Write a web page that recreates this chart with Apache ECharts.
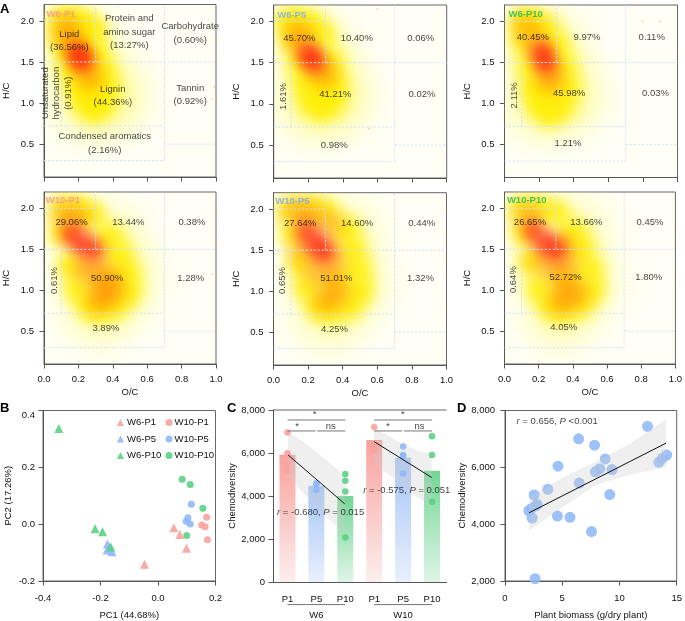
<!DOCTYPE html>
<html><head><meta charset="utf-8">
<style>html,body{margin:0;padding:0;background:#fff}#c{width:685px;height:621px}</style>
<script src="https://cdn.jsdelivr.net/npm/echarts@6/dist/echarts.min.js"></script>
</head><body><div id="c"></div>
<script>
const FONT = '"Liberation Sans", Arial, sans-serif';
// ---------- Panel A: density ridges: [O/C, H/C, level]
const panelTitles = ['W6-P1','W6-P5','W6-P10','W10-P1','W10-P5','W10-P10'];
const densityW6P1 = [[.3,1.35,0],[.4,1.05,0],[.2,1.75,0],[.25,1.0,0],[.1,2,1],[.16,2,1],[.23,1.97,1],[.29,1.88,1],[.11,1.8,1],[.14,1.6,1],[.16,1.4,1],[.2,1.2,1],[.24,1.03,1],[.29,.92,1],[.34,1.02,1],[.36,1.2,1],[.34,1.4,1],[.3,1.6,1],[.22,1.75,1],[.26,1.2,1],[.13,1.92,2],[.15,1.78,2],[.18,1.66,2],[.24,1.45,2],[.27,1.3,2],[.2,1.6,3],[.22,1.52,3]];
const densityW6P5 = [[.3,1.35,0],[.36,1.05,0],[.22,1.75,0],[.22,1.0,0],[.08,2,1],[.14,2,1],[.22,1.96,1],[.28,1.82,1],[.11,1.78,1],[.15,1.5,1],[.18,1.25,1],[.22,1.03,1],[.28,.95,1],[.34,1.05,1],[.35,1.25,1],[.33,1.5,1],[.26,1.2,1],[.14,1.85,2],[.16,1.75,2],[.26,1.45,2],[.29,1.35,2],[.2,1.6,3],[.23,1.52,3]];
const densityW6P10 = [[.3,1.35,0],[.36,1.05,0],[.24,1.75,0],[.2,1.0,0],[.1,2,1],[.16,1.98,1],[.24,1.92,1],[.11,1.75,1],[.14,1.45,1],[.17,1.2,1],[.2,1.0,1],[.26,.88,1],[.33,.98,1],[.36,1.2,1],[.34,1.45,1],[.3,1.7,1],[.24,1.15,1],[.13,1.92,2],[.19,1.72,2],[.25,1.38,2],[.27,1.28,2],[.215,1.62,3],[.24,1.5,3]];
const densityW10P1 = [[.3,1.3,0],[.46,1.1,0],[.38,1.6,0],[.32,.75,0],[.1,2,1],[.2,2,1],[.28,1.92,1],[.1,1.7,1],[.15,1.3,1],[.19,1.02,1],[.26,.82,1],[.33,.78,1],[.42,.82,1],[.49,.98,1],[.48,1.2,1],[.44,1.42,1],[.38,1.65,1],[.36,1.1,1],[.13,1.92,2],[.2,1.85,2],[.3,1.25,2],[.34,1.0,2],[.32,.87,2],[.4,.98,2],[.38,1.15,2],[.24,1.28,2],[.16,1.68,3],[.22,1.56,3],[.29,1.5,3]];
const densityW10P5 = [[.3,1.3,0],[.46,1.1,0],[.4,1.7,0],[.32,.72,0],[.09,2,1],[.2,2.02,1],[.3,1.98,1],[.11,1.7,1],[.15,1.35,1],[.19,1.05,1],[.26,.82,1],[.34,.78,1],[.44,.82,1],[.5,1,1],[.49,1.25,1],[.46,1.5,1],[.42,1.75,1],[.36,1.1,1],[.13,1.96,2],[.22,1.92,2],[.33,1.8,2],[.17,1.5,2],[.34,1.2,2],[.37,.98,2],[.3,.88,2],[.24,1.25,2],[.34,1.42,2],[.19,1.72,3],[.25,1.58,3],[.29,1.48,3]];
const densityW10P10 = [[.3,1.3,0],[.46,1.1,0],[.4,1.7,0],[.32,.72,0],[.09,2,1],[.2,2,1],[.3,1.95,1],[.11,1.7,1],[.15,1.35,1],[.2,1.02,1],[.27,.82,1],[.34,.77,1],[.44,.82,1],[.51,1,1],[.5,1.25,1],[.45,1.5,1],[.4,1.7,1],[.36,1.1,1],[.14,1.92,2],[.22,1.38,2],[.3,1.25,2],[.36,1.02,2],[.33,.85,2],[.42,.95,2],[.36,1.3,2],[.34,1.55,2],[.17,1.72,3],[.24,1.58,3],[.3,1.5,3]];
const strayW6P1 = [[1,1.75],[1,1.65],[.99,1.2],[1,1],[.98,1.05],[.2,2.2],[.4,2.2]];
const strayW6P5 = [[.6,2.15],[.25,2.2],[.55,.7]];
const strayW6P10 = [[1,1.6],[.8,2],[.9,2]];
const strayW10P1 = [[1,2],[1,1.72],[1,1.6],[1,.57],[.4,2.2],[.98,1.2]];
const strayW10P5 = [[1,2],[1,1.7],[1,1.6],[1,1.4],[1,1.2],[1,.75]];
const strayW10P10 = [[1,1.75],[1,1.55],[1,1.2]];
const regionSegments = [[.3,1.5,.3,2.2],[0,2,.3,2],[0,1.5,1,1.5],[.1,.72,.1,1.5],[0,.72,.7,.72],[.7,.3,.7,2.2],[0,.3,.7,.3],[.7,.5,1,.5]];
const hcTicks = [.5,1,1.5,2];
// Region annotations: [text, O/C, H/C]
const notesW6P1 = [['Lipid\n(36.56%)',.147,1.757],['Protein and\namino sugar\n(13.27%)',.496,1.862],['Carbohydrate\n(0.60%)',.85,1.85],['Lignin\n(44.36%)',.40,1.09],['Tannin\n(0.92%)',.85,1.1],['Condensed aromatics\n(2.16%)',.353,.51]];
const notesW6P5 = [['45.70%',.148,1.79],['10.40%',.48,1.79],['0.06%',.85,1.79],['41.21%',.356,1.115],['0.02%',.857,1.115],['0.98%',.35,.5]];
const notesW6P10 = [['40.45%',.164,1.8],['9.97%',.477,1.8],['0.11%',.851,1.8],['45.98%',.373,1.12],['0.03%',.873,1.12],['1.21%',.367,.51]];
const notesW10P1 = [['29.06%',.16,1.83],['13.44%',.49,1.83],['0.38%',.86,1.83],['50.90%',.367,1.15],['1.28%',.853,1.15],['3.89%',.36,.54]];
const notesW10P5 = [['27.64%',.154,1.83],['14.60%',.483,1.83],['0.44%',.857,1.83],['51.01%',.363,1.157],['1.32%',.85,1.157],['4.25%',.353,.54]];
const notesW10P10 = [['26.65%',.149,1.834],['13.66%',.479,1.834],['0.45%',.851,1.834],['52.72%',.357,1.157],['1.80%',.844,1.157],['4.05%',.347,.544]];
const verticalNotes = [['Unsaturated\nhydrocarbon\n(0.91%)',.073,1.12],['1.61%',.056,1.09],['2.11%',.058,1.1],['0.61%',.058,1.12],['0.65%',.052,1.13],['0.64%',.052,1.13]];
const titleAnchors = [[.015,2.085],[.02,2.07],[.023,2.08],[.01,2.1],[.01,2.09],[.014,2.1]];
// ---------- Panel B: PCA
const w6p1PCA = [[.055,-.013],[.076,-.036],[.099,-.085],[-.047,-.141]];
const w6p5PCA = [[-.176,-.07],[-.177,-.091],[-.16,-.097],[-.168,-.081]];
const w6p10PCA = [[-.345,.337],[-.219,-.016],[-.193,-.027],[-.164,-.08]];
const w10p1PCA = [[.169,.024],[.152,-.003],[.164,-.009],[.172,-.055]];
const w10p5PCA = [[.116,.07],[.104,.023],[.098,.01],[.112,.001]];
const w10p10PCA = [[.084,.158],[.112,.14],[.156,.056],[.1,-.04]];
// ---------- Panel C
const treatments = ['P1','P5','P10','P1','P5','P10'];
const weeks = ['W6','W10'];
const meanChemo = [5920,4480,4000,6600,5780,5180];
const repsW6P1 = [6948,5988,5478,5215];
const repsW6P5 = [4596,4520,4286];
const repsW6P10 = [5029,4704,4209,2073];
const repsW10P1 = [7210,6421,6298,6143];
const repsW10P5 = [6298,5911,5865,5044];
const repsW10P10 = [6778,5911,3729];
const fitW6 = [[.02,5911],[1.98,3636]];
const fitW10 = [[2.995,6530],[4.99,4858]];
const bandUpperW6 = [[.02,7000],[.5,6560],[1,6060],[1.5,5500],[1.98,4950]];
const bandLowerW6 = [[.02,4950],[.5,4200],[1,3500],[1.5,2850],[1.98,2200]];
const bandUpperW10 = [[2.995,7150],[3.5,6800],[4,6400],[4.5,6100],[4.99,5950]];
const bandLowerW10 = [[2.995,5500],[3.5,5000],[4,4450],[4.5,3950],[4.99,3500]];
const bracketsC = [[[0,7536],[2,7536]],[[0,7025],[.97,7025]],[[1.03,7025],[2,7025]],[[3,7536],[5,7536]],[[3,7025],[3.97,7025]],[[4.03,7025],[5,7025]],[[0,-1050],[2,-1050]],[[3,-1050],[5,-1050]]];
const signifC = [['*',.94,7799],['*',.33,7226],['ns',1.5,7257],['*',3.99,7799],['*',3.47,7226],['ns',4.57,7257]];
// ---------- Panel D
const biomassChemo = [[12.45,7443],[6.43,7002],[7.82,6781],[8.75,6294],[4.63,6039],[14.13,6433],[13.75,6317],[13.44,6178],[8.28,5946],[7.9,5841],[9.35,5923],[3.74,5226],[6.49,5447],[2.55,5029],[9.15,5040],[2.81,4704],[2.69,4646],[2.08,4472],[2.32,4553],[2.37,4217],[4.58,4286],[5.68,4240],[7.56,3741],[2.63,2081]];
const fitD = [[2.11,4402],[14.07,6851]];
const bandUpperD = [[2.11,4930],[5,5630],[8,6210],[11,6850],[14.07,7700]];
const bandLowerD = [[14.07,6000],[11,5750],[8,5400],[5,4590],[2.11,3780]];

const densityAll = [densityW6P1,densityW6P5,densityW6P10,densityW10P1,densityW10P5,densityW10P10];
const strayAll = [strayW6P1,strayW6P5,strayW6P10,strayW10P1,strayW10P5,strayW10P10];
const notesAll = [notesW6P1,notesW6P5,notesW6P10,notesW10P1,notesW10P5,notesW10P10];
const titleColors = ['#fa8e8b','#76aaf4','#13b954','#fa8e8b','#76aaf4','#13b954'];
const rects = [[43,4.5,173,172.5],[273.7,5,173,173],[504.5,5,173,172.5],[43,192,173,172],[273.5,192.7,173,172.3],[504.5,192,173,172]];
const nameGaps = [33,32,32.5,33,32,32.5];
const RED='#f9a29e', BLUE='#8fb8f8', GREEN='#5ad285';
const TEXT='#111', AXIS='#555';

const soft=(rgb,a)=>({type:'radial',x:.5,y:.5,r:.5,colorStops:[[0,1],[.25,.82],[.5,.42],[.75,.12],[1,0]].map(s=>({offset:s[0],color:`rgba(${rgb},${a*s[1]})`}))});
const blobFill = level => level===0?soft('255,250,120',.6):level===1?soft('255,238,0',.8):level<3?soft('255,135,0',.42):soft('255,30,15',.62);
const blobSize = level => level===0?125:level===1?54:level<3?54:46;

const grid=[],xAxis=[],yAxis=[],series=[];
const labelStyle={color:TEXT,fontSize:9.5,fontFamily:FONT};
const axisBase={axisLine:{onZero:false,lineStyle:{color:AXIS,width:1}},axisTick:{length:4.5,lineStyle:{color:AXIS,width:1}},splitLine:{show:false},nameTextStyle:labelStyle};

rects.forEach((r,i)=>{
  grid.push({left:r[0],top:r[1],width:r[2],height:r[3],show:true,borderColor:'#666',borderWidth:1,backgroundColor:'#fffff6'});
  const bottom=i>=3;
  xAxis.push({...axisBase,gridIndex:i,type:'value',min:0,max:1,interval:.2,
    axisLabel:{show:bottom,...labelStyle,margin:10,formatter:v=>v.toFixed(1)},
    name:bottom?'O/C':'',nameLocation:'middle',nameGap:23});
  yAxis.push({...axisBase,gridIndex:i,type:'value',min:.1,max:2.2,
    axisTick:{...axisBase.axisTick,customValues:hcTicks},
    axisLabel:{...labelStyle,margin:10,customValues:hcTicks,formatter:v=>v.toFixed(1)},
    name:'H/C',nameLocation:'middle',nameGap:nameGaps[i]});
  const ax={xAxisIndex:i,yAxisIndex:i};
  series.push({...ax,type:'custom',silent:true,z:2,data:densityAll[i],
    renderItem:(p,api)=>{const c=api.coord([api.value(0),api.value(1)]),lv=api.value(2),rd=blobSize(lv)/2,cs=p.coordSys;
      return {type:'circle',shape:{cx:c[0],cy:c[1],r:rd},style:{fill:blobFill(lv)},clipPath:{type:'rect',shape:{x:cs.x,y:cs.y,width:cs.width,height:cs.height}}};}});
  series.push({...ax,type:'scatter',silent:true,z:3,symbolSize:2,data:strayAll[i],itemStyle:{color:'rgba(232,150,70,.55)'}});
  series.push({...ax,type:'custom',silent:true,z:4,data:regionSegments,
    renderItem:(p,api)=>{const a=api.coord([api.value(0),api.value(1)]),b=api.coord([api.value(2),api.value(3)]);
      return {type:'line',shape:{x1:a[0],y1:a[1],x2:b[0],y2:b[1]},style:{stroke:'#cfe0f5',lineWidth:.9,lineDash:[2.5,1.5],fill:null}};}});
  series.push({...ax,type:'scatter',silent:true,z:6,symbolSize:0,data:notesAll[i].map(n=>[n[1],n[2],n[0]]),
    label:{show:true,position:'inside',formatter:p=>p.value[2],...labelStyle,lineHeight:13.5,align:'center',verticalAlign:'middle'}});
  series.push({...ax,type:'scatter',silent:true,z:6,symbolSize:0,data:[[verticalNotes[i][1],verticalNotes[i][2],verticalNotes[i][0]]],
    label:{show:true,position:'inside',rotate:90,formatter:p=>p.value[2],...labelStyle,lineHeight:11.5,align:'center',verticalAlign:'middle'}});
  series.push({...ax,type:'scatter',silent:true,z:6,symbolSize:0,data:[[titleAnchors[i][0],titleAnchors[i][1],panelTitles[i]]],
    label:{show:true,position:'right',distance:0,formatter:p=>p.value[2],color:titleColors[i],fontSize:9.5,fontWeight:'bold',fontFamily:FONT}});
});

// Panel B (index 6)
grid.push({left:43,top:410.5,width:172.5,height:171.5,show:true,borderColor:'#666',borderWidth:1});
xAxis.push({...axisBase,gridIndex:6,type:'value',min:-.4,max:.2,interval:.2,axisLabel:{...labelStyle,margin:12,formatter:v=>v.toFixed(1)},name:'PC1 (44.68%)',nameLocation:'middle',nameGap:29});
yAxis.push({...axisBase,gridIndex:6,type:'value',min:-.2,max:.4,interval:.2,axisLabel:{...labelStyle,margin:8,verticalAlignMaxLabel:'top',formatter:v=>v.toFixed(1)},name:'PC2 (17.26%)',nameLocation:'middle',nameGap:30});
[['W6-P1',w6p1PCA,'triangle',RED],['W6-P5',w6p5PCA,'triangle',BLUE],['W6-P10',w6p10PCA,'triangle',GREEN],
 ['W10-P1',w10p1PCA,'circle',RED],['W10-P5',w10p5PCA,'circle',BLUE],['W10-P10',w10p10PCA,'circle',GREEN]].forEach(s=>{
  series.push({name:s[0],type:'scatter',xAxisIndex:6,yAxisIndex:6,data:s[1],symbol:s[2],symbolSize:s[2]==='triangle'?9:7,itemStyle:{color:s[3],opacity:.9},z:5});
});

// Panel C (x axes 7,8,9; y axis 7)
grid.push({left:273,top:410,width:173.5,height:172});
xAxis.push({...axisBase,gridIndex:7,type:'category',data:treatments,axisTick:{...axisBase.axisTick,alignWithLabel:true},axisLabel:{...labelStyle,margin:12,interval:0}});
xAxis.push({gridIndex:7,type:'value',min:-.5,max:5.5,show:false});
xAxis.push({gridIndex:7,type:'category',data:weeks,position:'bottom',offset:16,axisLine:{show:false},axisTick:{show:false},axisLabel:{...labelStyle,margin:12,interval:0}});
yAxis.push({...axisBase,gridIndex:7,type:'value',min:0,max:8000,interval:2000,axisLabel:{...labelStyle,margin:8},name:'Chemodiversity',nameLocation:'middle',nameGap:35});
const barTop=[RED,'#a6c5f8','#72d694','#f9a29e','#a6c5f8','#72d694'];
const barBase=['#fbefee','#e9f0fc','#e0f5e7','#fbefee','#e9f0fc','#e0f5e7'];
series.push({type:'bar',xAxisIndex:7,yAxisIndex:7,barWidth:16,z:2,silent:true,
  data:meanChemo.map((v,i)=>({value:v,itemStyle:{color:{type:'linear',x:0,y:0,x2:0,y2:1,colorStops:[{offset:0,color:barTop[i]},{offset:1,color:barBase[i]}]}}}))});
const bandSeries=(xi,yi,pts,z)=>({type:'custom',xAxisIndex:xi,yAxisIndex:yi,silent:true,z,data:[[0,0]],
  renderItem:(p,api)=>({type:'polygon',shape:{points:pts.map(q=>api.coord(q))},style:{fill:'rgba(205,205,205,.33)'}})});
series.push(bandSeries(8,7,bandUpperW6.concat(bandLowerW6.slice().reverse()),3));
series.push(bandSeries(8,7,bandUpperW10.concat(bandLowerW10.slice().reverse()),3));
[[repsW6P1,0,RED],[repsW6P5,1,BLUE],[repsW6P10,2,GREEN],[repsW10P1,3,RED],[repsW10P5,4,BLUE],[repsW10P10,5,GREEN]].forEach(s=>{
  series.push({type:'scatter',xAxisIndex:8,yAxisIndex:7,silent:true,z:4,symbolSize:6.5,data:s[0].map(v=>[s[1],v]),itemStyle:{color:s[2],opacity:.9}});
});
[fitW6,fitW10].forEach(f=>series.push({type:'line',xAxisIndex:8,yAxisIndex:7,silent:true,z:5,data:f,symbol:'none',lineStyle:{color:'#111',width:1}}));
bracketsC.concat([[[-.5,8000],[5.5,8000]]]).forEach((b,i)=>series.push({type:'line',xAxisIndex:8,yAxisIndex:7,silent:true,clip:false,z:5,data:b,symbol:'none',lineStyle:{color:i===8?'#666':'#777',width:1}}));
series.push({type:'scatter',xAxisIndex:8,yAxisIndex:7,silent:true,symbolSize:0,z:6,data:signifC.map(s=>[s[1],s[2],s[0]]),
  label:{show:true,position:'inside',formatter:p=>p.value[2],...labelStyle,align:'center',verticalAlign:'middle'}});
const richNote=(x,y,a,b,eq)=>({value:[x,y],label:{show:true,position:'right',distance:0,formatter:`{i|r}{n| = ${a}, }{i|P}{n| ${eq}${eq?' ':''}${b}}`,
  rich:{i:{...labelStyle,fontStyle:'italic'},n:{...labelStyle}}}});
series.push({type:'scatter',xAxisIndex:8,yAxisIndex:7,silent:true,symbolSize:0,z:7,data:[richNote(-.36,3218,'-0.680','0.015','='),richNote(2.62,4255,'-0.575','0.051','=')]});

// Panel D (x axis 10, y axis 8)
grid.push({left:505,top:410.5,width:172.5,height:172,show:true,borderColor:'#666',borderWidth:1});
xAxis.push({...axisBase,gridIndex:8,type:'value',min:0,max:15,interval:5,axisLabel:{...labelStyle,margin:12},name:'Plant biomass (g/dry plant)',nameLocation:'middle',nameGap:29});
yAxis.push({...axisBase,gridIndex:8,type:'value',min:2000,max:8000,interval:2000,axisLabel:{...labelStyle,margin:10},name:'Chemodiversity',nameLocation:'middle',nameGap:35});
series.push({type:'scatter',xAxisIndex:10,yAxisIndex:8,silent:true,z:3,symbolSize:11,data:biomassChemo,itemStyle:{color:BLUE,opacity:.88}});
series.push(bandSeries(10,8,bandUpperD.concat(bandLowerD),4));
series.push({type:'line',xAxisIndex:10,yAxisIndex:8,silent:true,z:5,data:fitD,symbol:'none',lineStyle:{color:'#111',width:1}});
series.push({type:'scatter',xAxisIndex:10,yAxisIndex:8,silent:true,symbolSize:0,z:7,data:[richNote(1.01,7629,'0.656','<0.001','')]});

const legendBase={orient:'vertical',top:417.5,padding:0,itemWidth:7,itemHeight:7,itemGap:6.5,selectedMode:false};
const panelLetter=(t,l,tp)=>({text:t,left:l,top:tp,padding:0,textStyle:{fontSize:13,fontWeight:'bold',color:'#000',fontFamily:FONT}});
const chart=echarts.init(document.getElementById('c'),null,{renderer:'canvas'});
chart.setOption({
  animation:false,backgroundColor:'#fff',
  title:[panelLetter('A',0,3),panelLetter('B',0,402),panelLetter('C',227,402),panelLetter('D',457,402)],
  grid,xAxis,yAxis,series,
  legend:[{...legendBase,left:117,textStyle:{...labelStyle,padding:[0,0,0,-2]},data:['W6-P1','W6-P5','W6-P10']},{...legendBase,left:165.5,textStyle:{...labelStyle,padding:[0,0,0,-3]},data:['W10-P1','W10-P5','W10-P10']}]
});
</script></body></html>
